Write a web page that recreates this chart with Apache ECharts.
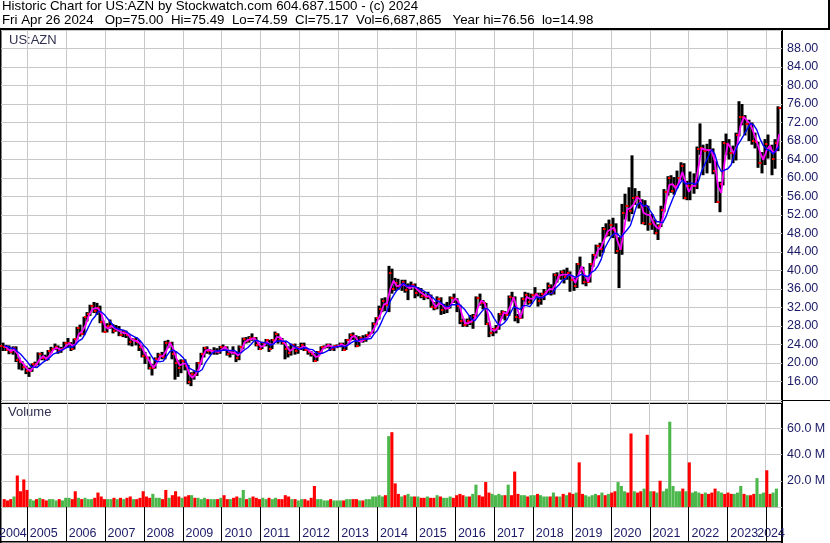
<!DOCTYPE html>
<html><head><meta charset="utf-8">
<script src="https://cdn.jsdelivr.net/npm/echarts@6/dist/echarts.min.js"></script>
<style>html,body{margin:0;padding:0;background:#fff}#c{width:830px;height:543px}</style>
</head><body><div id="c"></div>
<script>
// ---- Data (monthly bars, May 2004 .. Apr 2024) ----
const firstMonth = { year: 2004, month: 5 };
const openP = [
 23.6,23.4,22.8,22.4,23.3,20.6,20.2,19.2,
 18.2,18.3,19.8,19.7,22.0,21.0,20.7,22.6,23.0,23.5,22.5,23.1,
 24.3,24.3,23.0,25.1,27.5,26.3,29.9,30.5,32.4,31.3,32.0,28.9,
 26.8,28.0,28.0,26.9,27.3,26.0,26.8,26.0,24.5,25.0,24.5,23.5,
 21.5,21.0,19.0,19.0,20.9,21.8,21.3,24.3,24.4,22.0,20.0,19.0,
 20.5,19.3,15.8,17.7,17.5,20.0,22.0,23.3,22.5,22.5,22.5,22.3,
 23.5,23.4,22.0,22.4,22.1,21.0,23.5,25.2,24.8,25.4,25.3,23.9,
 23.1,24.3,24.9,23.1,25.0,26.2,25.0,24.4,23.0,22.2,24.0,22.7,
 23.2,24.0,22.8,22.3,22.0,20.5,22.4,23.4,23.5,24.0,23.0,23.7,
 23.7,24.2,22.9,25.0,26.0,25.8,23.7,25.4,24.9,26.0,26.5,28.5,
 29.7,31.7,33.5,32.5,39.5,36.0,37.2,36.4,37.5,35.7,36.5,36.9,
 35.2,35.5,34.5,34.2,34.5,32.2,31.9,33.8,31.5,31.8,31.9,34.0,
 33.9,32.4,29.0,28.2,29.0,28.9,30.2,34.0,33.0,32.9,28.4,26.4,
 27.3,27.5,30.7,31.1,30.3,34.2,34.1,29.9,29.7,33.9,34.6,33.1,
 34.7,35.0,33.3,35.0,35.3,36.6,35.1,39.1,38.6,39.6,38.6,39.5,
 38.0,36.6,41.4,40.4,37.5,37.6,41.3,43.4,45.3,44.6,49.0,47.9,
 49.9,48.7,44.3,44.7,52.4,54.0,52.9,55.7,55.9,54.8,50.2,53.9,
 50.0,50.5,48.2,49.7,53.1,56.9,60.1,57.2,58.2,60.0,62.5,55.6,
 58.3,58.2,58.3,66.3,66.4,65.9,66.1,65.9,61.5,54.8,58.8,67.6,
 67.4,65.4,65.2,69.4,73.2,73.2,71.6,71.7,67.9,67.7,63.2,64.6,
 67.4,66.6,64.1,67.6
];
const highP = [
 24.4,23.9,23.8,23.6,23.6,21.2,20.4,19.4,
 19.0,19.9,20.3,22.3,22.4,21.8,22.8,23.5,24.2,23.8,23.5,24.6,
 25.4,24.5,25.3,27.8,28.3,30.0,31.0,32.6,33.2,33.0,32.4,29.2,
 28.6,29.4,28.4,28.2,28.0,27.2,27.0,26.2,25.4,25.6,25.0,23.8,
 22.4,21.4,19.8,21.2,22.2,22.4,24.8,25.0,24.6,22.6,20.6,20.8,
 20.8,19.6,18.0,18.2,20.2,22.2,23.5,23.6,23.0,23.4,23.2,23.7,
 24.0,23.6,22.8,23.6,22.4,23.8,25.5,25.6,25.8,26.4,25.6,24.2,
 24.6,25.2,25.0,25.2,26.8,26.4,25.4,24.8,23.6,24.2,24.2,23.6,
 24.4,24.4,23.0,22.6,22.2,22.6,23.6,23.8,24.2,24.2,23.8,24.0,
 24.4,24.4,25.2,26.4,26.6,26.0,25.8,26.0,26.2,26.8,28.8,29.9,
 32.4,34.0,34.2,41.0,40.4,38.4,38.2,38.0,38.0,37.2,37.6,37.2,
 36.4,36.2,35.4,35.4,34.8,33.2,34.4,34.2,32.8,33.2,34.4,35.0,
 34.0,32.6,29.6,29.6,30.4,30.6,34.4,35.0,33.6,33.0,28.8,27.6,
 28.2,30.8,31.4,31.2,34.6,35.4,34.4,30.6,34.2,35.4,35.2,35.0,
 36.4,35.2,35.2,36.0,37.4,37.0,39.4,39.6,40.0,40.2,40.6,39.8,
 38.4,41.6,43.0,40.8,38.8,41.6,43.6,45.6,46.0,49.4,50.2,51.0,
 51.4,50.2,47.2,54.4,56.6,58.0,64.9,57.8,57.2,55.4,55.2,54.0,
 52.2,51.0,50.0,54.0,57.6,60.4,60.6,60.2,61.6,63.4,63.2,59.4,
 61.4,61.0,66.8,71.8,67.2,67.4,68.4,66.4,63.6,59.2,68.0,69.6,
 68.4,67.0,69.8,76.6,76.0,73.6,72.6,72.0,69.8,67.8,65.6,68.4,
 69.4,67.2,68.4,75.5
];
const lowP = [
 22.6,22.6,21.9,21.8,20.2,18.6,18.4,17.6,
 17.0,18.1,19.1,19.5,20.6,20.5,20.6,22.2,22.8,22.0,22.2,23.0,
 23.4,22.6,22.9,25.0,25.7,26.0,29.0,30.2,30.8,30.4,28.6,26.6,
 26.6,27.4,26.4,26.8,25.8,25.6,25.4,23.8,23.6,23.8,22.6,21.2,
 19.8,18.6,17.3,18.8,20.6,20.8,20.8,23.2,20.8,16.4,17.0,17.8,
 18.4,15.4,15.0,16.4,17.2,19.6,21.2,22.0,21.8,21.8,21.8,22.0,
 22.6,21.6,21.2,21.8,20.2,20.6,23.0,24.2,24.4,24.8,23.6,22.8,
 23.0,23.6,22.4,23.0,24.8,24.2,24.0,20.8,21.2,21.6,21.8,22.0,
 22.8,22.6,21.8,21.4,20.2,20.4,22.0,23.0,23.2,22.6,22.6,23.2,
 23.4,22.6,22.8,24.8,25.0,23.4,23.6,24.4,24.6,25.6,26.4,28.2,
 29.4,31.0,31.2,31.0,35.0,35.6,35.8,35.6,35.2,33.6,35.8,34.0,
 34.4,34.0,33.6,33.8,32.0,31.4,31.6,30.4,30.6,30.8,31.8,33.0,
 31.0,28.4,27.8,27.8,28.2,27.4,30.0,32.4,31.6,28.2,25.6,25.8,
 26.4,27.2,29.6,29.2,30.2,33.2,29.0,28.6,29.6,33.2,32.6,32.8,
 34.2,32.2,32.6,33.6,34.8,34.6,34.8,37.4,38.0,37.2,38.0,35.4,
 35.6,36.2,39.6,37.0,36.6,37.4,40.8,42.6,43.0,43.8,47.2,47.4,
 47.0,43.6,36.2,43.4,51.0,50.6,52.2,54.2,53.4,50.0,49.8,48.6,
 48.8,47.8,46.6,49.4,52.6,56.2,56.8,56.4,57.8,59.6,55.4,55.2,
 55.2,56.6,57.6,65.0,60.6,61.0,63.2,60.8,54.6,52.6,58.4,65.0,
 64.0,63.2,63.8,69.0,71.4,69.2,68.0,67.2,66.4,62.2,61.0,62.8,
 64.2,60.6,62.0,65.8
];
const closeP = [
 23.4,22.8,22.4,23.3,20.6,20.2,19.2,18.2,
 18.3,19.8,19.7,22.0,21.0,20.7,22.6,23.0,23.5,22.5,23.1,24.3,
 24.3,23.0,25.1,27.5,26.3,29.9,30.5,32.4,31.3,32.0,28.9,26.8,
 28.0,28.0,26.9,27.3,26.0,26.8,26.0,24.5,25.0,24.5,23.5,21.5,
 21.0,19.0,19.0,20.9,21.8,21.3,24.3,24.4,22.0,20.0,19.0,20.5,
 19.3,15.8,17.7,17.5,20.0,22.0,23.3,22.5,22.5,22.5,22.3,23.5,
 23.4,22.0,22.4,22.1,21.0,23.5,25.2,24.8,25.4,25.3,23.9,23.1,
 24.3,24.9,23.1,25.0,26.2,25.0,24.4,23.0,22.2,24.0,22.7,23.2,
 24.0,22.8,22.3,22.0,20.5,22.4,23.4,23.5,24.0,23.0,23.7,23.7,
 24.2,22.9,25.0,26.0,25.8,23.7,25.4,24.9,26.0,26.5,28.5,29.7,
 31.7,33.5,32.5,39.5,36.0,37.2,36.4,37.5,35.7,36.5,36.9,35.2,
 35.5,34.5,34.2,34.5,32.2,31.9,33.8,31.5,31.8,31.9,34.0,33.9,
 32.4,29.0,28.2,29.0,28.9,30.2,34.0,33.0,32.9,28.4,26.4,27.3,
 27.5,30.7,31.1,30.3,34.2,34.1,29.9,29.7,33.9,34.6,33.1,34.7,
 35.0,33.3,35.0,35.3,36.6,35.1,39.1,38.6,39.6,38.6,39.5,38.0,
 36.6,41.4,40.4,37.5,37.6,41.3,43.4,45.3,44.6,49.0,47.9,49.9,
 48.7,44.3,44.7,52.4,54.0,52.9,55.7,55.9,54.8,50.2,53.9,50.0,
 50.5,48.2,49.7,53.1,56.9,60.1,57.2,58.2,60.0,62.5,55.6,58.3,
 58.2,58.3,66.3,66.4,65.9,66.1,65.9,61.5,54.8,58.8,67.6,67.4,
 65.4,65.2,69.4,73.2,73.2,71.6,71.7,67.9,67.7,63.2,64.6,67.4,
 66.6,64.1,67.6,75.2
];
// short (magenta) and long (blue) moving-average lines, month-end readings
const maShort = [
 23.7,23.1,22.6,22.9,22.0,20.4,19.7,18.7,
 18.3,19.1,19.8,20.9,21.5,20.9,21.7,22.8,23.3,23.0,22.8,23.7,
 24.3,23.7,24.1,26.3,26.9,28.1,30.2,31.5,31.9,31.7,30.5,27.9,
 27.4,28.0,27.5,27.1,26.7,26.4,26.4,25.3,24.8,24.8,24.0,22.5,
 21.3,20.0,19.0,20.0,21.4,21.6,22.8,24.4,23.2,21.0,19.5,19.8,
 19.9,17.6,16.8,17.6,18.8,21.0,22.7,22.9,22.5,22.5,22.4,22.9,
 23.5,22.7,22.2,22.3,21.6,22.3,24.4,25.0,25.1,25.4,24.6,23.5,
 23.7,24.6,24.0,24.1,25.6,25.6,24.7,23.7,22.6,23.1,23.4,23.0,
 23.6,23.4,22.6,22.2,21.3,21.5,22.9,23.5,23.8,23.5,23.4,23.7,
 24.0,23.6,24.0,25.5,25.9,24.8,24.6,25.2,25.5,26.3,27.5,29.1,
 30.7,32.6,33.0,36.0,37.8,36.6,36.8,37.0,36.6,36.1,36.7,36.1,
 35.4,35.0,34.4,34.4,33.4,32.1,32.9,32.7,31.7,31.9,33.0,34.0,
 33.2,30.7,28.6,28.6,29.0,29.6,32.1,33.5,33.0,30.7,27.4,26.9,
 27.4,29.1,30.9,30.7,32.3,34.2,32.0,29.8,31.8,34.3,33.9,33.9,
 34.9,34.2,34.2,35.2,36.0,35.9,37.1,38.9,39.1,39.1,39.1,38.8,
 37.3,39.0,40.9,39.0,37.6,39.5,42.4,44.4,45.0,46.8,48.5,48.9,
 49.3,46.5,44.5,48.6,53.2,53.5,54.3,55.8,55.4,52.5,52.1,52.0,
 50.3,49.4,49.0,51.4,55.0,58.5,58.7,57.7,59.1,61.3,59.1,57.0,
 58.3,58.3,62.3,66.4,66.2,66.0,66.0,63.7,58.2,56.8,63.2,67.5,
 66.4,65.3,67.3,71.3,73.2,72.4,71.7,69.8,67.8,65.5,63.9,66.0,
 67.0,65.4,65.9,69.5
];
const maLong = [
 23.7,23.6,23.2,23.2,22.5,21.9,21.1,20.3,
 19.3,19.1,19.0,19.6,20.2,20.6,21.2,21.9,22.2,22.5,22.9,23.3,
 23.5,23.4,24.0,24.8,25.2,26.4,27.9,29.3,30.1,31.2,31.0,30.3,
 29.4,28.7,27.7,27.4,27.2,27.0,26.6,26.1,25.7,25.4,24.7,23.8,
 23.1,21.9,20.8,20.3,20.3,20.4,21.5,22.5,22.8,22.4,21.9,21.2,
 20.2,18.9,18.5,18.2,18.1,18.6,20.1,21.1,22.1,22.6,22.6,22.7,
 22.8,22.7,22.7,22.7,22.2,22.2,22.8,23.3,24.0,24.8,24.9,24.5,
 24.4,24.3,23.9,24.1,24.7,24.8,24.7,24.7,24.2,23.7,23.3,23.0,
 23.2,23.3,23.0,22.9,22.3,22.0,22.1,22.4,22.8,23.3,23.5,23.6,
 23.7,23.5,23.9,24.4,24.8,24.7,25.2,25.2,25.2,25.3,26.3,27.1,
 28.5,30.0,31.2,33.4,34.6,35.7,36.3,37.3,36.6,36.7,36.6,36.4,
 36.0,35.7,35.3,34.8,34.2,33.5,33.3,32.8,32.2,32.2,32.6,32.6,
 32.8,32.2,31.5,30.5,29.5,29.1,30.1,31.0,31.8,31.7,30.9,29.6,
 28.5,28.1,28.6,29.4,30.8,32.1,31.9,31.6,32.4,32.4,32.2,33.2,
 34.3,34.1,34.2,34.7,35.0,35.1,36.2,36.9,37.8,38.2,39.1,38.9,
 38.5,38.8,39.2,38.8,38.7,39.6,40.0,41.0,42.4,44.7,46.0,47.3,
 48.0,48.0,47.1,48.0,48.8,49.7,51.9,54.2,54.7,53.9,54.1,53.0,
 51.9,50.6,50.5,50.3,51.7,53.6,55.4,57.1,58.5,59.6,58.7,58.9,
 58.9,58.6,59.3,61.5,63.0,64.6,66.1,65.2,62.8,61.4,61.7,62.0,
 62.8,64.9,67.0,68.1,69.3,70.5,71.8,71.5,70.4,68.4,67.0,66.2,
 65.9,65.2,66.1,66.8
];
// volume, millions of shares (weekly scale), and bar colour (r = down, g = up) per month
const volumeM = [
 6,5,6,8,24,12,21,13,
 6,5,6,7,6,5,6,6,5,6,5,7,
 7,6,12,7,6,7,6,6,7,11,8,6,
 6,6,7,6,7,6,7,8,6,6,7,12,
 8,7,10,7,7,6,13,7,9,12,8,7,
 8,9,9,7,7,6,7,6,6,6,6,7,
 9,6,6,7,8,7,13,6,7,8,7,6,
 7,6,7,6,7,6,6,9,8,6,6,5,
 6,6,5,7,16,6,6,5,5,6,5,5,
 5,5,6,6,6,6,5,5,6,6,8,8,
 9,8,9,54,57,18,10,8,9,10,8,8,
 8,7,7,8,7,7,9,8,7,7,8,7,
 9,10,9,8,8,10,17,9,8,19,11,10,
 9,10,9,9,17,9,27,10,9,9,8,9,
 9,10,9,8,8,8,11,8,8,10,9,11,
 10,11,34,10,9,8,9,10,9,11,9,10,
 11,12,19,16,12,11,56,12,11,12,14,55,
 12,12,11,20,12,14,65,16,12,12,14,12,
 34,11,12,11,10,11,10,11,14,12,11,10,
 11,10,10,11,16,10,9,9,10,22,10,11,
 28,10,11,14
];
const volumeColor = [
 'rrrgrrrr',
 'ggrgrrgggrgg',
 'grrgrgggrrrr',
 'ggrgrgrrgrrr',
 'rrgggrrgrrrg',
 'rrgrgggrggrg',
 'rrgrrggrgrrr',
 'ggrggrrrrgrg',
 'grrrrggggrgg',
 'grggrrgrgggg',
 'ggrgrrrgrggr',
 'grrgrrgrgggr',
 'rrrgrggrrrrg',
 'gggrgrrrggrg',
 'grgggrgrgrgr',
 'rgrrggggrgrg',
 'rrgggrrgrrgr',
 'grgrggggggrg',
 'rgggrgrrrggr',
 'rrgggrgrrggg',
 'rrgg'
].join('');
const yearLabels = ['2004','2005','2006','2007','2008','2009','2010','2011','2012','2013','2014',
 '2015','2016','2017','2018','2019','2020','2021','2022','2023','2024'];
const NB = '\u00a0';
const headerLine1 = 'Historic Chart for US:AZN by Stockwatch.com 604.687.1500 - (c) 2024';
const headerLine2 = 'Fri Apr 26 2024' + NB + NB + ' Op=75.00' + NB + ' Hi=75.49' + NB + ' Lo=74.59' + NB +
  ' Cl=75.17' + NB + ' Vol=6,687,865' + NB + NB + ' Year hi=76.56' + NB + ' lo=14.98';
const symbolLabel = 'US:AZN';
const volumeLabel = 'Volume';
const priceAxis = { min: 12, max: 92, interval: 4 };
const volAxis = { min: 0, max: 80, interval: 20 };
const xRange = { min: '2004-04-29', max: '2024-05-23' };
const lastDay = new Date(2024, 3, 26);

// ---- Build ----
const FONT = '"Liberation Sans", Arial, sans-serif';
const NAVY = '#1a1a66';
const n = closeP.length;
const barDate = i => +new Date(firstMonth.year, firstMonth.month - 1 + i, 15);
const maDate = i => Math.min(+new Date(firstMonth.year, firstMonth.month + i, 0), +lastDay);
const ohlc = [], shortLine = [], longLine = [], vols = [];
for (let i = 0; i < n; i++) {
  ohlc.push([barDate(i), openP[i], highP[i], lowP[i], closeP[i]]);
  shortLine.push([maDate(i), maShort[i]]);
  longLine.push([maDate(i), maLong[i]]);
  vols.push({ value: [barDate(i), volumeM[i]],
    itemStyle: { color: volumeColor[i] === 'g' ? '#4cb84c' : '#ff0000' } });
}
const yearStarts = yearLabels.map(y => [+new Date(+y, 0, 1), 0]);

function gridLines(xi, yi) {
  return {
    type: 'custom', xAxisIndex: xi, yAxisIndex: yi, silent: true, z: 1,
    data: yearStarts, encode: { x: 0 },
    renderItem(params, api) {
      const cs = params.coordSys;
      const x = api.coord([api.value(0), 0])[0];
      if (x <= cs.x + 1 || x >= cs.x + cs.width - 1) return null;
      return { type: 'rect', shape: { x: Math.floor(x), y: cs.y, width: 1, height: cs.height },
        style: { fill: '#c8c8c8' } };
    }
  };
}

const option = {
  animation: false,
  backgroundColor: '#fff',
  grid: [
    { left: 1, right: 48, top: 30, height: 370 },
    { left: 1, right: 48, top: 402, height: 105 },
    { left: 1, right: 48, top: 507, height: 35 }
  ],
  xAxis: [0, 1, 2].map(g => ({
    type: 'time', gridIndex: g, min: xRange.min, max: xRange.max,
    axisLine: { show: false }, axisTick: { show: false }, axisLabel: { show: false },
    splitLine: { show: false }
  })),
  yAxis: [
    { type: 'value', gridIndex: 0, position: 'right', min: priceAxis.min, max: priceAxis.max,
      interval: priceAxis.interval, axisLine: { show: false }, axisTick: { show: false },
      axisLabel: { showMinLabel: false, showMaxLabel: false, margin: 5, color: NAVY,
        fontFamily: FONT, fontSize: 12.5, formatter: v => v.toFixed(2) },
      splitLine: { lineStyle: { color: '#c8c8c8', width: 1 } } },
    { type: 'value', gridIndex: 1, position: 'right', min: volAxis.min, max: volAxis.max,
      interval: volAxis.interval, axisLine: { show: false }, axisTick: { show: false },
      axisLabel: { showMinLabel: false, showMaxLabel: false, margin: 5, color: NAVY,
        fontFamily: FONT, fontSize: 12.5, formatter: v => v.toFixed(1) + ' M' },
      splitLine: { lineStyle: { color: '#c8c8c8', width: 1 } } },
    { type: 'value', gridIndex: 2, min: 0, max: 1, show: false }
  ],
  series: [
    gridLines(0, 0),
    gridLines(1, 1),
    {
      type: 'custom', name: 'price', xAxisIndex: 0, yAxisIndex: 0, z: 3,
      data: ohlc, encode: { x: 0, y: [1, 2, 3, 4] },
      renderItem(params, api) {
        const t = api.value(0);
        const h = api.coord([t, api.value(2)]);
        const l = api.coord([t, api.value(3)]);
        const o = api.coord([t, api.value(1)]);
        const c = api.coord([t, api.value(4)]);
        const x = Math.round(h[0]);
        const yo = Math.round(o[1]), yc = Math.round(c[1]);
        return { type: 'group', children: [
          { type: 'rect', shape: { x: x - 1.5, y: h[1], width: 3, height: Math.max(1, l[1] - h[1]) },
            style: { fill: '#000' } },
          { type: 'rect', shape: { x: x - 3, y: yo - 1, width: 2.5, height: 2 }, style: { fill: '#ff0000' } },
          { type: 'rect', shape: { x: x + 0.5, y: yc - 1, width: 2.5, height: 2 }, style: { fill: '#ff0000' } }
        ] };
      }
    },
    { type: 'line', name: 'short', xAxisIndex: 0, yAxisIndex: 0, z: 4, data: shortLine,
      showSymbol: false, lineStyle: { color: '#ff00ff', width: 1.8 } },
    { type: 'line', name: 'long', xAxisIndex: 0, yAxisIndex: 0, z: 5, data: longLine,
      showSymbol: false, lineStyle: { color: '#0000ff', width: 1.4 } },
    { type: 'bar', name: 'volume', xAxisIndex: 1, yAxisIndex: 1, z: 3, data: vols,
      barWidth: 3.1 },
    {
      type: 'custom', name: 'years', xAxisIndex: 2, yAxisIndex: 2, silent: true, z: 3,
      data: yearStarts, encode: { x: 0 },
      renderItem(params, api) {
        const cs = params.coordSys;
        const i = params.dataIndex;
        const x = api.coord([api.value(0), 0])[0];
        const children = [];
        const right = cs.x + cs.width;
        if (x > cs.x + 1 && x < right - 1) {
          children.push({ type: 'rect', shape: { x: Math.floor(x), y: cs.y, width: 1, height: cs.height },
            style: { fill: '#000' } });
        }
        let tx, align;
        if (i === 0) {
          tx = api.coord([yearStarts[1][0], 0])[0] - 0.5; align = 'right';
        } else if (i === yearLabels.length - 1) {
          tx = right + 3; align = 'right';
        } else {
          tx = x + 2.5; align = 'left';
        }
        children.push({ type: 'text', x: tx, y: cs.y + cs.height - 8,
          style: { text: yearLabels[i], align: align, verticalAlign: 'middle',
            fill: NAVY, font: '12.5px ' + FONT } });
        return { type: 'group', children };
      }
    }
  ],
  graphic: [
    { type: 'text', left: 2, top: 0, style: { text: headerLine1, fill: '#000', font: '13.3px ' + FONT } },
    { type: 'text', left: 2, top: 14, style: { text: headerLine2, fill: '#000', font: '13.3px ' + FONT } },
    { type: 'rect', left: 0, top: 28, shape: { width: 830, height: 2 }, style: { fill: '#000' } },
    { type: 'rect', left: 828, top: 0, shape: { width: 2, height: 30 }, style: { fill: '#000' } },
    { type: 'rect', left: 0, top: 30, shape: { width: 1.5, height: 513 }, style: { fill: '#000' } },
    { type: 'rect', left: 0, top: 400, shape: { width: 830, height: 1 }, style: { fill: '#000' } },
    { type: 'rect', left: 0, top: 403, shape: { width: 782, height: 1 }, style: { fill: '#000' } },
    { type: 'rect', left: 0, top: 507, shape: { width: 782, height: 1 }, style: { fill: '#000' } },
    { type: 'rect', left: 0, top: 541, shape: { width: 782, height: 1.5 }, style: { fill: '#000' } },
    { type: 'rect', left: 781, top: 28, shape: { width: 2, height: 515 }, style: { fill: '#000' } },
    { type: 'text', left: 9, top: 34, style: { text: symbolLabel, fill: '#303050', font: '13px ' + FONT } },
    { type: 'text', left: 8, top: 406, style: { text: volumeLabel, fill: '#303050', font: '13px ' + FONT } }
  ]
};
const chart = echarts.init(document.getElementById('c'), null, { renderer: 'canvas' });
chart.setOption(option);
</script>
</body></html>
